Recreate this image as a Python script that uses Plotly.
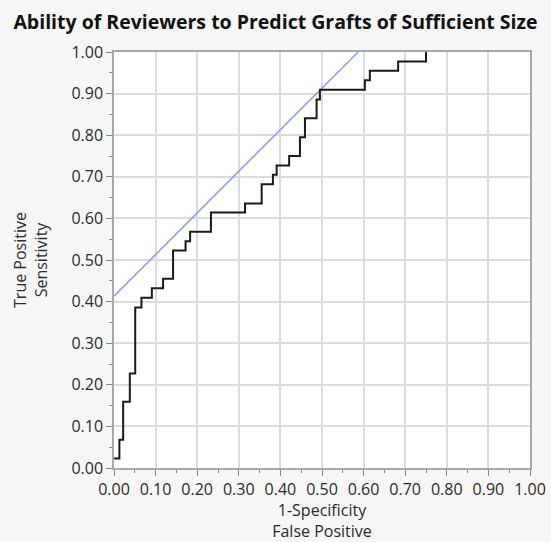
import plotly.graph_objects as go

# ROC step curve (1-specificity, sensitivity)
fpr = [0.0, 0.013, 0.022, 0.038, 0.051, 0.066, 0.091, 0.118, 0.142, 0.172,
       0.183, 0.233, 0.315, 0.355, 0.382, 0.391, 0.421, 0.447, 0.459, 0.487,
       0.495, 0.603, 0.615, 0.683, 0.750]
tpr = [0.023, 0.068, 0.159, 0.227, 0.386, 0.409, 0.432, 0.455, 0.523, 0.545,
       0.568, 0.614, 0.636, 0.682, 0.705, 0.727, 0.750, 0.795, 0.841, 0.886,
       0.909, 0.932, 0.955, 0.977, 1.000]

# tangent reference line
tangent_x = [0.0, 0.587]
tangent_y = [0.413, 1.0]

tick_vals = [i / 10 for i in range(11)]
tick_text = [f"{v:.2f}" for v in tick_vals]

fig = go.Figure()
fig.add_trace(go.Scatter(x=tangent_x, y=tangent_y, mode="lines",
                         line=dict(color="#7fa5ee", width=1.6), showlegend=False))
fig.add_trace(go.Scatter(x=fpr, y=tpr, mode="lines", line_shape="hv",
                         line=dict(color="#1a1a1a", width=2), showlegend=False))

axis_common = dict(
    range=[0, 1],
    tickvals=tick_vals,
    ticktext=tick_text,
    showgrid=True,
    gridcolor="#dcdcdc",
    gridwidth=1.5,
    zeroline=False,
    showline=True,
    linecolor="#a8a8a8",
    linewidth=1.5,
    mirror=True,
    ticks="outside",
    ticklen=6,
    tickcolor="#888888",
    minor=dict(ticks="outside", ticklen=3, tickcolor="#888888", dtick=0.05, showgrid=False),
    tickfont=dict(family="Open Sans", size=16, color="#2b2b2b"),
    automargin=False,
    fixedrange=True,
)

fig.update_xaxes(**axis_common,
                 title=dict(text="1-Specificity<br>False Positive",
                            font=dict(family="Open Sans", size=16, color="#2b2b2b"),
                            standoff=5))
fig.update_yaxes(**axis_common,
                 title=dict(text="True Positive<br>Sensitivity",
                            font=dict(family="Open Sans", size=16, color="#2b2b2b"),
                            standoff=20))

fig.update_layout(
    width=551,
    height=542,
    title=dict(text="<b>Ability of Reviewers to Predict Grafts of Sufficient Size</b>",
               x=0.5, xref="container", xanchor="center",
               y=0.96, yref="container", yanchor="middle",
               font=dict(family="Open Sans", size=19.5, color="#111111")),
    paper_bgcolor="#f6f6f6",
    plot_bgcolor="#ffffff",
    margin=dict(l=114, r=21, t=52, b=74),
)

# drop the browser's default body margin so the figure fills the window
fig.write_html("out.html", config={"displayModeBar": False},
               post_script="document.body.style.margin='0';")
